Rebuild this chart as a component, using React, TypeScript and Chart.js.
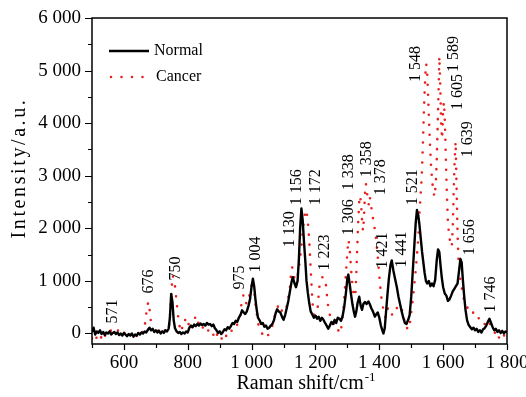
import React, { useEffect, useRef } from 'react';
import { Chart, registerables } from 'chart.js';

Chart.register(...registerables);

// ---------------- data ----------------
const normalShift = [
  500, 505, 510, 515, 520, 525, 530, 535, 540, 545, 550, 555, 560, 565, 570, 575, 580, 585, 590, 595,
  600, 605, 610, 615, 620, 625, 630, 635, 640, 645, 650, 655, 660, 665, 670, 675, 680, 685, 690, 695,
  700, 705, 710, 715, 720, 725, 730, 735, 740, 744, 748, 752, 756, 760, 765, 770, 775, 780, 785, 790,
  795, 800, 805, 810, 815, 820, 825, 830, 835, 840, 845, 850, 855, 860, 865, 870, 875, 880, 885, 890,
  895, 900, 905, 910, 915, 920, 925, 930, 935, 940, 945, 950, 955, 960, 965, 970, 975, 980, 985, 990,
  995, 1000, 1004, 1008, 1012, 1016, 1020, 1025, 1030, 1035, 1040, 1045, 1050, 1055, 1060, 1065, 1070, 1075, 1080, 1085,
  1090, 1095, 1100, 1105, 1110, 1115, 1120, 1125, 1129, 1134, 1139, 1144, 1148, 1152, 1156, 1160, 1164, 1168, 1172, 1176,
  1180, 1185, 1190, 1195, 1200, 1205, 1210, 1215, 1220, 1225, 1230, 1235, 1240, 1245, 1250, 1255, 1260, 1265, 1270, 1275,
  1280, 1285, 1290, 1295, 1300, 1303, 1307, 1311, 1316, 1320, 1324, 1328, 1332, 1337, 1342, 1346, 1350, 1355, 1360, 1366,
  1370, 1375, 1380, 1386, 1390, 1395, 1400, 1405, 1410, 1413, 1417, 1421, 1425, 1430, 1435, 1439, 1444, 1449, 1455, 1460,
  1465, 1470, 1475, 1480, 1485, 1490, 1495, 1500, 1505, 1510, 1514, 1518, 1522, 1526, 1530, 1534, 1538, 1542, 1546, 1550,
  1555, 1560, 1565, 1570, 1575, 1580, 1584, 1588, 1592, 1596, 1600, 1605, 1610, 1615, 1620, 1625, 1630, 1635, 1640, 1645,
  1650, 1654, 1658, 1662, 1666, 1670, 1675, 1680, 1685, 1690, 1695, 1700, 1705, 1710, 1715, 1720, 1725, 1730, 1735, 1740,
  1745, 1750, 1755, 1760, 1765, 1770, 1775, 1780, 1785, 1790, 1795, 1800,
];
const normalIntensity = [
  30, 110, -20, 40, 10, 60, -10, 30, -30, 20, 0, 40, -20, 10, 30, -10, 20, -30, 0, -40,
  10, -20, -50, -10, -40, 0, -60, -20, -40, 10, -20, 20, 0, 40, 20, 70, 110, 60, 90, 30,
  60, 20, 50, 0, 40, 10, 60, 40, 90, 300, 750, 600, 250, 100, 40, 10, 30, -10, 20, 0,
  40, 20, 110, 150, 120, 170, 140, 180, 150, 190, 160, 180, 150, 200, 170, 180, 140, 170, 100, 60,
  10, 40, -10, 30, 80, 60, 120, 90, 140, 200, 180, 240, 220, 300, 350, 440, 400, 370, 420, 520,
  650, 900, 1040, 900, 650, 450, 300, 250, 180, 200, 130, 150, 90, 110, 150, 180, 250, 380, 460, 420,
  400, 320, 260, 350, 480, 620, 800, 980, 1070, 960, 880, 1000, 1400, 2000, 2380, 2150, 1750, 1400, 1000, 780,
  600, 420, 360, 300, 340, 280, 320, 240, 300, 260, 200, 150, 90, 150, 220, 180, 260, 200, 300, 280,
  240, 330, 500, 750, 1050, 1120, 950, 760, 550, 420, 320, 420, 580, 700, 520, 450, 560, 600, 560, 610,
  560, 480, 420, 320, 360, 400, 300, 150, 50, 0, 100, 400, 700, 1050, 1300, 1390, 1200, 1050, 880, 700,
  560, 420, 300, 200, 180, 250, 350, 700, 1200, 1700, 2100, 2350, 2250, 2050, 1800, 1550, 1350, 1150, 1000, 950,
  1000, 900, 950, 900, 1020, 1400, 1600, 1550, 1280, 1050, 880, 760, 720, 620, 650, 720, 800, 850, 900, 950,
  1200, 1420, 1350, 1000, 700, 450, 250, 160, 120, 80, 110, 60, 90, 30, 60, 20, 80, 100, 150, 220,
  280, 200, 120, 60, 90, 30, 60, 10, 50, 0, 40, 20,
];

const cancerShift = [
  500, 505, 510, 515, 520, 525, 530, 535, 540, 545, 550, 555, 560, 565, 570, 575, 580, 585, 590, 595,
  600, 605, 610, 615, 620, 625, 630, 635, 640, 645, 650, 655, 660, 665, 668, 672, 676, 680, 684, 688,
  692, 697, 702, 707, 712, 717, 722, 727, 732, 737, 742, 746, 750, 753, 756, 760, 763, 767, 771, 775,
  779, 783, 787, 791, 795, 799, 803, 807, 811, 815, 819, 823, 827, 831, 835, 840, 845, 850, 855, 860,
  865, 870, 875, 880, 884, 888, 892, 896, 900, 905, 910, 915, 920, 925, 930, 935, 940, 945, 950, 955,
  960, 964, 968, 972, 976, 980, 984, 988, 992, 996, 1000, 1004, 1008, 1012, 1016, 1020, 1025, 1030, 1035, 1040,
  1045, 1050, 1055, 1060, 1065, 1070, 1075, 1080, 1085, 1090, 1095, 1100, 1105, 1110, 1115, 1120, 1124, 1127, 1131, 1135,
  1139, 1143, 1147, 1151, 1155, 1159, 1163, 1167, 1171, 1175, 1178, 1181, 1184, 1187, 1190, 1194, 1198, 1202, 1206, 1209,
  1212, 1216, 1220, 1224, 1228, 1232, 1236, 1240, 1244, 1248, 1252, 1256, 1260, 1264, 1268, 1272, 1276, 1280, 1284, 1288,
  1292, 1296, 1300, 1303, 1306, 1309, 1313, 1317, 1321, 1325, 1329, 1333, 1337, 1340, 1343, 1346, 1349, 1352, 1355, 1358,
  1361, 1364, 1367, 1370, 1373, 1376, 1380, 1384, 1388, 1392, 1396, 1400, 1404, 1408, 1412, 1416, 1420, 1424, 1428, 1432,
  1436, 1440, 1444, 1448, 1452, 1456, 1460, 1465, 1470, 1474, 1478, 1482, 1486, 1490, 1494, 1498, 1502, 1506, 1510, 1514,
  1518, 1522, 1526, 1530, 1533, 1536, 1539, 1542, 1545, 1547, 1550, 1553, 1556, 1559, 1562, 1565, 1569, 1573, 1577, 1580,
  1583, 1586, 1588, 1591, 1594, 1597, 1600, 1603, 1606, 1609, 1612, 1615, 1619, 1623, 1627, 1630, 1633, 1636, 1639, 1642,
  1645, 1648, 1652, 1656, 1660, 1665, 1670, 1675, 1680, 1685, 1690, 1695, 1700, 1705, 1710, 1715, 1720, 1725, 1730, 1735,
  1740, 1745, 1750, 1755, 1760, 1765, 1770, 1775, 1780, 1785, 1790, 1795, 1800,
];
const cancerIntensity = [
  -90, -40, -120, -70, -30, -110, -60, -130, -50, 0, -30, 30, 60, 40, 80, 50, 70, 20, 40, -10,
  20, -20, 30, 0, -30, 10, -40, -10, -50, 10, -10, 40, 20, 120, 300, 450, 600, 480, 250, 100,
  40, 70, 20, 60, 30, 50, 10, 60, 30, 70, 150, 500, 900, 1100, 1020, 900, 720, 480, 260, 120,
  30, 120, 230, 270, 200, 250, 170, 100, 60, 140, 200, 300, 340, 250, 160, 110, 150, 70, 40, 90,
  50, 20, 60, -20, -110, -60, -20, -90, -60, -110, -40, -100, -50, 10, 60, 30, 80, 60, 120, 170,
  250, 350, 560, 700, 740, 640, 560, 600, 700, 800, 920, 1010, 820, 560, 380, 200, 100, 40, -30, -60,
  -20, -50, 10, 60, 150, 280, 380, 470, 560, 500, 430, 420, 400, 520, 690, 880, 1150, 1260, 1180, 1000,
  910, 1050, 1220, 1380, 1600, 1850, 2100, 2280, 2350, 2200, 2000, 1700, 1350, 1000, 650, 380, 250, 330, 420, 650,
  880, 980, 1060, 1080, 1030, 980, 720, 500, 380, 270, 240, 220, 150, 90, 40, 60, 0, 70, 250, 500,
  820, 1200, 1550, 1780, 1700, 1450, 1100, 850, 700, 720, 1300, 2000, 2500, 2620, 2450, 2150, 1950, 2200, 2650, 2850,
  2700, 2550, 2450, 2600, 2500, 2350, 2200, 2050, 1900, 1650, 1400, 1100, 820, 600, 480, 340, 300, 420, 500, 420,
  380, 360, 420, 460, 440, 500, 540, 520, 460, 400, 250, 120, 90, 130, 100, 300, 500, 700, 950, 1200,
  1500, 1800, 2300, 2700, 3000, 3500, 4100, 4600, 5000, 5130, 4950, 4500, 4000, 3550, 3200, 2950, 2700, 2600, 2850, 3300,
  4000, 4700, 5270, 4700, 3900, 3700, 4300, 4400, 3900, 3200, 2600, 2100, 1850, 1700, 1650, 2000, 2700, 3300, 3650, 2800,
  1900, 1400, 1100, 950, 800, 650, 560, 500, 460, 420, 450, 380, 400, 320, 300, 260, 280, 220, 180, 120,
  160, 200, 140, 80, 40, -20, 20, -80, -40, -90, -30, -80, -60,
];

const seriesNames = ['Normal', 'Cancer'];

// peak annotations: text, position along x (cm-1), baseline of rotated text (intensity)
const peakLabels = ['571', '676', '750', '975', '1 004', '1 130', '1 156', '1 172', '1 223', '1 306', '1 338',
  '1 358', '1 378', '1 421', '1 441', '1 521', '1 548', '1 589', '1 605', '1 639', '1 656', '1 746'];
const peakLabelShift = [566, 677, 762, 964, 1014, 1119, 1142, 1200, 1230, 1305, 1305,
  1362, 1405, 1410, 1471, 1504, 1513, 1633, 1645, 1676, 1684, 1748];
const peakLabelBase = [190, 762, 1010, 838, 1162, 1638, 2438, 2438, 1200, 1867, 2724,
  2971, 2629, 1238, 1257, 2438, 4781, 4971, 4248, 3352, 1486, 400];

const xTicks = [500, 600, 700, 800, 900, 1000, 1100, 1200, 1300, 1400, 1500, 1600, 1700, 1800];
const xLabeledTicks = [600, 800, 1000, 1200, 1400, 1600, 1800];
const yTicks = [0, 500, 1000, 1500, 2000, 2500, 3000, 3500, 4000, 4500, 5000, 5500, 6000];
const yLabeledTicks = [0, 1000, 2000, 3000, 4000, 5000, 6000];

const xTitle = 'Raman shift/cm';
const xTitleSup = '-1';
const yTitle = 'Intensity/a.u.';

const SERIF = '"Liberation Serif", "Times New Roman", serif';
const RED = '#e8211e';

function fmt(v: number): string {
  if (Math.abs(v) >= 1000) {
    const th = Math.floor(v / 1000);
    const rest = String(v % 1000).padStart(3, '0');
    return `${th} ${rest}`;
  }
  return String(v);
}

const decorPlugin = {
  id: 'decor',
  afterDraw(chart: any) {
    const { ctx, chartArea: a, scales } = chart;
    const xs = scales.x;
    const ys = scales.y;
    ctx.save();
    ctx.strokeStyle = '#000';
    ctx.fillStyle = '#000';

    // frame
    ctx.lineWidth = 1.5;
    ctx.strokeRect(a.left, a.top, a.right - a.left, a.bottom - a.top);

    // tick marks
    ctx.lineWidth = 1.2;
    ctx.beginPath();
    xTicks.forEach((v) => {
      const px = Math.round(xs.getPixelForValue(v)) + 0.5;
      const len = xLabeledTicks.includes(v) ? 6 : 4;
      ctx.moveTo(px, a.bottom);
      ctx.lineTo(px, a.bottom + len);
    });
    yTicks.forEach((v) => {
      const py = Math.round(ys.getPixelForValue(v)) + 0.5;
      const len = yLabeledTicks.includes(v) ? 7 : 4;
      ctx.moveTo(a.left - len, py);
      ctx.lineTo(a.left, py);
    });
    ctx.stroke();

    // peak labels
    ctx.font = `16px ${SERIF}`;
    ctx.textAlign = 'left';
    ctx.textBaseline = 'middle';
    peakLabels.forEach((t, i) => {
      const px = xs.getPixelForValue(peakLabelShift[i]);
      const py = ys.getPixelForValue(peakLabelBase[i]);
      ctx.save();
      ctx.translate(px, py);
      ctx.rotate(-Math.PI / 2);
      ctx.fillText(t, 0, 0);
      ctx.restore();
    });

    // legend
    const lx = a.left + 17;
    const ly1 = a.top + 33;
    const ly2 = a.top + 59;
    ctx.lineWidth = 2.6;
    ctx.beginPath();
    ctx.moveTo(lx, ly1);
    ctx.lineTo(lx + 40, ly1);
    ctx.stroke();
    ctx.save();
    ctx.strokeStyle = RED;
    ctx.lineWidth = 2.6;
    ctx.lineCap = 'round';
    ctx.setLineDash([0, 10.5]);
    ctx.beginPath();
    ctx.moveTo(lx + 2, ly2);
    ctx.lineTo(lx + 36, ly2);
    ctx.stroke();
    ctx.restore();
    ctx.font = `16px ${SERIF}`;
    ctx.textAlign = 'left';
    ctx.textBaseline = 'middle';
    ctx.fillText(seriesNames[0], lx + 45, ly1);
    ctx.fillText(seriesNames[1], lx + 47, ly2);

    // x title with superscript
    ctx.font = `20px ${SERIF}`;
    ctx.textBaseline = 'alphabetic';
    const mainW = ctx.measureText(xTitle).width;
    ctx.font = `13px ${SERIF}`;
    const supW = ctx.measureText(xTitleSup).width;
    const totalW = mainW + supW;
    const cx = (a.left + a.right) / 2 + 6;
    const tx = cx - totalW / 2;
    const ty = chart.height - 8;
    ctx.font = `20px ${SERIF}`;
    ctx.fillText(xTitle, tx, ty);
    ctx.font = `13px ${SERIF}`;
    ctx.fillText(xTitleSup, tx + mainW + 1, ty - 8);

    // y title (rotated, letter-spaced)
    ctx.font = `20px ${SERIF}`;
    ctx.textAlign = 'center';
    ctx.textBaseline = 'middle';
    (ctx as any).letterSpacing = '2.6px';
    ctx.save();
    ctx.translate(20, 168);
    ctx.rotate(-Math.PI / 2);
    ctx.fillText(yTitle, 0, 0);
    ctx.restore();
    (ctx as any).letterSpacing = '0px';

    ctx.restore();
  },
};

export default function App() {
  const canvasRef = useRef<HTMLCanvasElement | null>(null);

  useEffect(() => {
    const canvas = canvasRef.current;
    if (!canvas) return;
    const chart = new Chart(canvas, {
      type: 'line',
      data: {
        datasets: [
          {
            label: seriesNames[0],
            data: normalShift.map((s, i) => ({ x: s, y: normalIntensity[i] })),
            borderColor: '#000',
            borderWidth: 2.4,
            pointRadius: 0,
            tension: 0,
            borderJoinStyle: 'round',
          },
          {
            label: seriesNames[1],
            data: cancerShift.map((s, i) => ({ x: s, y: cancerIntensity[i] })),
            borderColor: RED,
            borderWidth: 2.6,
            borderDash: [0, 10],
            borderCapStyle: 'round',
            pointRadius: 0,
            tension: 0,
          },
        ],
      },
      options: {
        responsive: false,
        animation: false,
        devicePixelRatio: 1,
        layout: { padding: { left: 0, top: 18, right: 19, bottom: 0 } },
        plugins: { legend: { display: false }, tooltip: { enabled: false } },
        scales: {
          x: {
            type: 'linear',
            min: 500,
            max: 1800,
            afterBuildTicks: (s: any) => {
              s.ticks = xTicks.map((v) => ({ value: v }));
            },
            afterFit: (s: any) => {
              s.height = 53;
              s.paddingLeft = 0;
              s.paddingRight = 0;
            },
            grid: { display: false, drawTicks: false },
            border: { display: false },
            ticks: {
              autoSkip: false,
              maxRotation: 0,
              padding: 8,
              color: '#000',
              font: { family: SERIF, size: 19 },
              callback: (v: any) => (xLabeledTicks.includes(Number(v)) ? fmt(Number(v)) : ''),
            },
          },
          y: {
            type: 'linear',
            min: -200,
            max: 6000,
            afterBuildTicks: (s: any) => {
              s.ticks = yTicks.map((v) => ({ value: v }));
            },
            afterFit: (s: any) => {
              s.width = 92;
              s.paddingTop = 0;
              s.paddingBottom = 0;
            },
            grid: { display: false, drawTicks: false },
            border: { display: false },
            ticks: {
              autoSkip: false,
              padding: 11,
              color: '#000',
              font: { family: SERIF, size: 19 },
              callback: (v: any) => (yLabeledTicks.includes(Number(v)) ? fmt(Number(v)) : ''),
            },
          },
        },
      },
      plugins: [decorPlugin],
    } as any);
    return () => chart.destroy();
  }, []);

  return (
    <div style={{ position: 'fixed', left: 0, top: 0, width: 526, height: 397, background: '#fff' }}>
      <canvas ref={canvasRef} width={526} height={397} style={{ display: 'block' }} />
    </div>
  );
}
